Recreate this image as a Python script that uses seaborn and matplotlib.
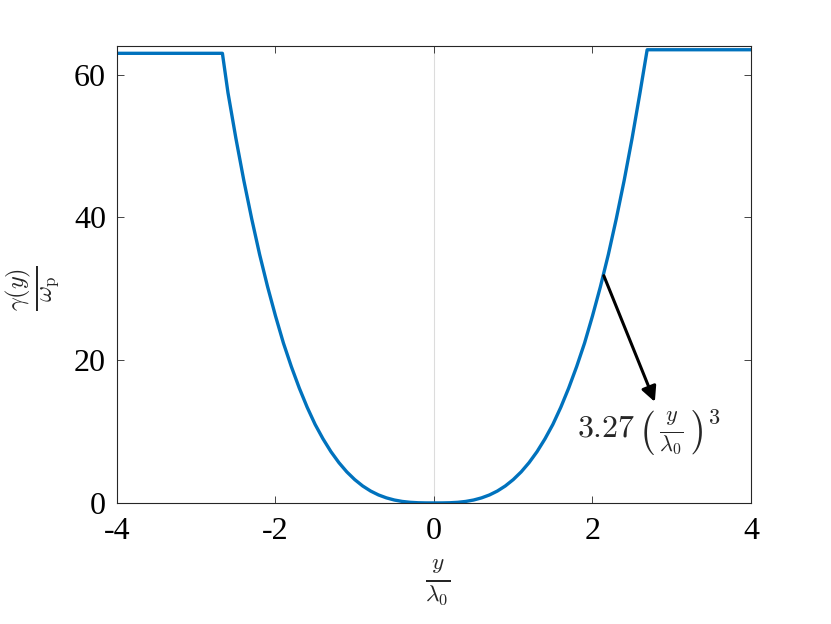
import numpy as np
import pandas as pd
import seaborn as sns
import matplotlib
matplotlib.use('Agg')
import matplotlib.pyplot as plt

# values (one half, the curve is symmetric in shape)
y_half = [0.0, 0.1, 0.2, 0.3, 0.4, 0.5, 0.6, 0.7, 0.8, 0.9, 1.0, 1.1, 1.2, 1.3, 1.4,
          1.5, 1.6, 1.7, 1.8, 1.9, 2.0, 2.1, 2.2, 2.3, 2.4, 2.5, 2.6]
g_half = [0.0, 0.003, 0.026, 0.088, 0.21, 0.41, 0.71, 1.12, 1.67, 2.38, 3.27, 4.35, 5.65, 7.18, 8.97,
          11.0, 13.4, 16.1, 19.1, 22.4, 26.2, 30.3, 34.8, 39.8, 45.2, 51.1, 57.5]
left_edge = [(-4.0, 63.0), (-2.67, 63.0)]
right_edge = [(2.69, 63.5), (4.0, 63.5)]
x_ticks = [-4, -2, 0, 2, 4]
y_ticks = [0, 20, 40, 60]

y_pos = ([p[0] for p in left_edge] + [-v for v in y_half[:0:-1]] + y_half
         + [p[0] for p in right_edge])
gamma = ([p[1] for p in left_edge] + g_half[:0:-1] + g_half
         + [p[1] for p in right_edge])
df = pd.DataFrame({'y': y_pos, 'gamma': gamma})

sns.set_style('ticks')
plt.rcParams['font.family'] = ['Liberation Serif', 'DejaVu Serif']
plt.rcParams['mathtext.fontset'] = 'cm'

fig = plt.figure(figsize=(8.31, 6.24), dpi=100)
ax = fig.add_axes([0.1408, 0.194, 0.7629, 0.732])

ax.axvline(0, color='#dcdcdc', lw=0.8, zorder=0)
sns.lineplot(data=df, x='y', y='gamma', sort=False, color='#0072BD', lw=2.4, ax=ax)

ax.set_xlim(-4, 4)
ax.set_ylim(0, 64)
ax.set_xticks(x_ticks)
ax.set_yticks(y_ticks)
ax.set_xticklabels([str(t) for t in x_ticks])
ax.tick_params(direction='in', top=True, right=True, labelsize=23, length=5, width=0.6,
               colors='#262626')
ax.tick_params(axis='x', pad=10)
ax.tick_params(axis='y', pad=8)
for lab in ax.get_xticklabels() + ax.get_yticklabels():
    lab.set_color('black')
for s in ax.spines.values():
    s.set_linewidth(0.8)
    s.set_color('#262626')

ax.set_xlabel(r'$\frac{y}{\lambda_0}$', fontsize=24)
ax.xaxis.set_label_coords(0.505, -0.12)
ax.set_ylabel(r'$\frac{\gamma(y)}{\omega_\mathrm{p}}$', fontsize=25)
ax.yaxis.set_label_coords(-0.086, 0.47)

ax.annotate('', xy=(2.80, 13.8), xytext=(2.13, 32.2),
            arrowprops=dict(arrowstyle='-|>,head_length=0.9,head_width=0.45', color='black', lw=2.2))
ax.text(1.8, 9.8, r'$3.27\,\left(\,\frac{y}{\lambda_0}\,\right)^3$', fontsize=23, va='center', ha='left')

fig.savefig('out.png', dpi=100)
